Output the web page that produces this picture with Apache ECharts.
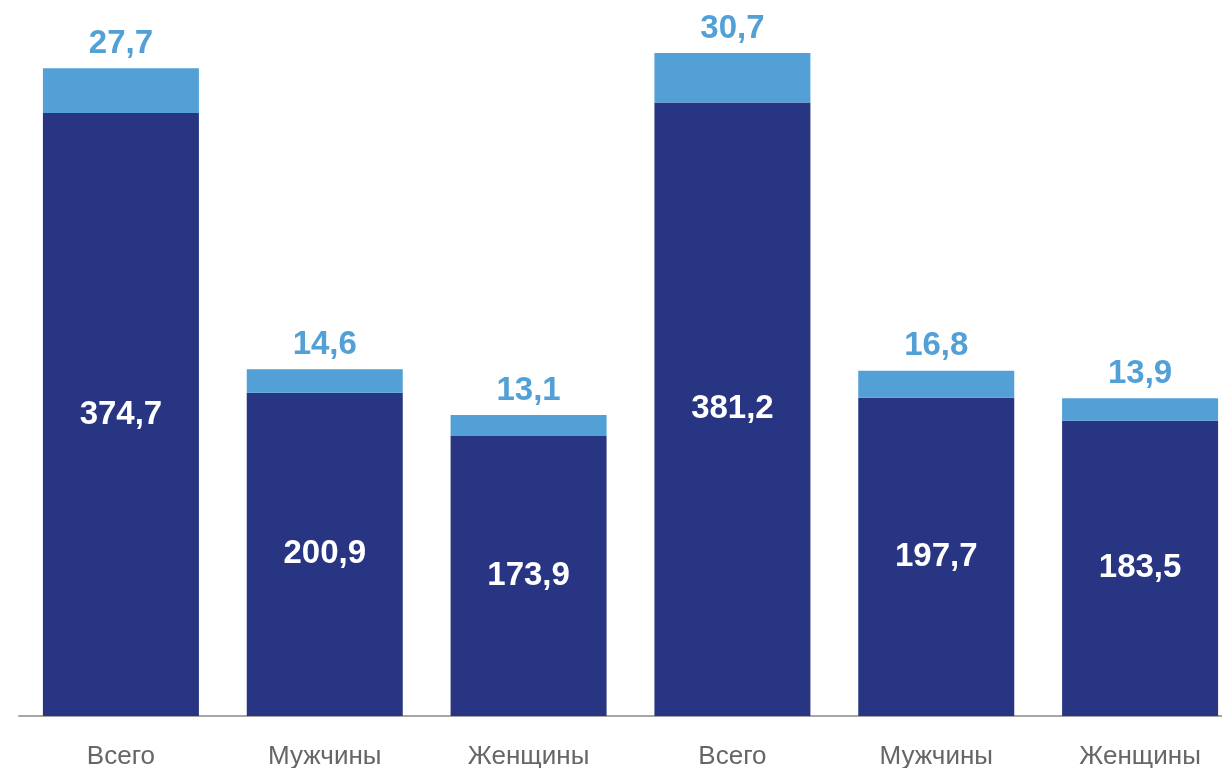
<!DOCTYPE html>
<html lang="ru">
<head>
    <meta charset="UTF-8">
    <title>chart</title>
    <script src="https://cdn.jsdelivr.net/npm/echarts@6/dist/echarts.min.js"></script>
    <style>
        html, body { margin: 0; padding: 0; background: #fff; overflow: hidden; }
    </style>
</head>
<body>
<div id="main" style="width: 1222px;height:768px;"></div>

<script>
    // категории
    const categories = ['Всего', 'Мужчины', 'Женщины', 'Всего', 'Мужчины', 'Женщины'];
    // нижняя часть столбцов
    const baseValues = [374.7, 200.9, 173.9, 381.2, 197.7, 183.5];
    // верхняя часть столбцов
    const topValues = [27.7, 14.6, 13.1, 30.7, 16.8, 13.9];

    const fmt = function (p) {
        return String(p.value).replace('.', ',');
    };

    const myChart = echarts.init(document.getElementById('main'));
    myChart.setOption({
        animation: false,
        grid: { left: 19, width: 1223, top: 40, bottom: 52, outerBoundsMode: 'none', containLabel: false },
        xAxis: {
            type: 'category',
            data: categories,
            axisLine: { lineStyle: { color: '#a6a6a6', width: 2 } },
            axisTick: { show: false },
            axisLabel: {
                color: '#666666',
                fontSize: 26,
                fontFamily: 'Liberation Sans, Arial, sans-serif',
                margin: 28
            }
        },
        yAxis: {
            type: 'value',
            min: 0,
            max: 420,
            show: false,
            splitLine: { show: false }
        },
        series: [{
            type: 'bar',
            stack: 'all',
            data: baseValues,
            barWidth: 156,
            itemStyle: { color: '#283583' },
            label: {
                show: true,
                position: 'inside',
                color: '#ffffff',
                fontSize: 33,
                fontWeight: 'bold',
                fontFamily: 'Liberation Sans, Arial, sans-serif',
                formatter: fmt
            }
        }, {
            type: 'bar',
            stack: 'all',
            data: topValues,
            barWidth: 156,
            itemStyle: { color: '#52a0d6' },
            label: {
                show: true,
                position: 'top',
                distance: 8,
                color: '#52a0d6',
                fontSize: 33,
                fontWeight: 'bold',
                fontFamily: 'Liberation Sans, Arial, sans-serif',
                formatter: fmt
            }
        }]
    });
</script>
</body>
</html>
